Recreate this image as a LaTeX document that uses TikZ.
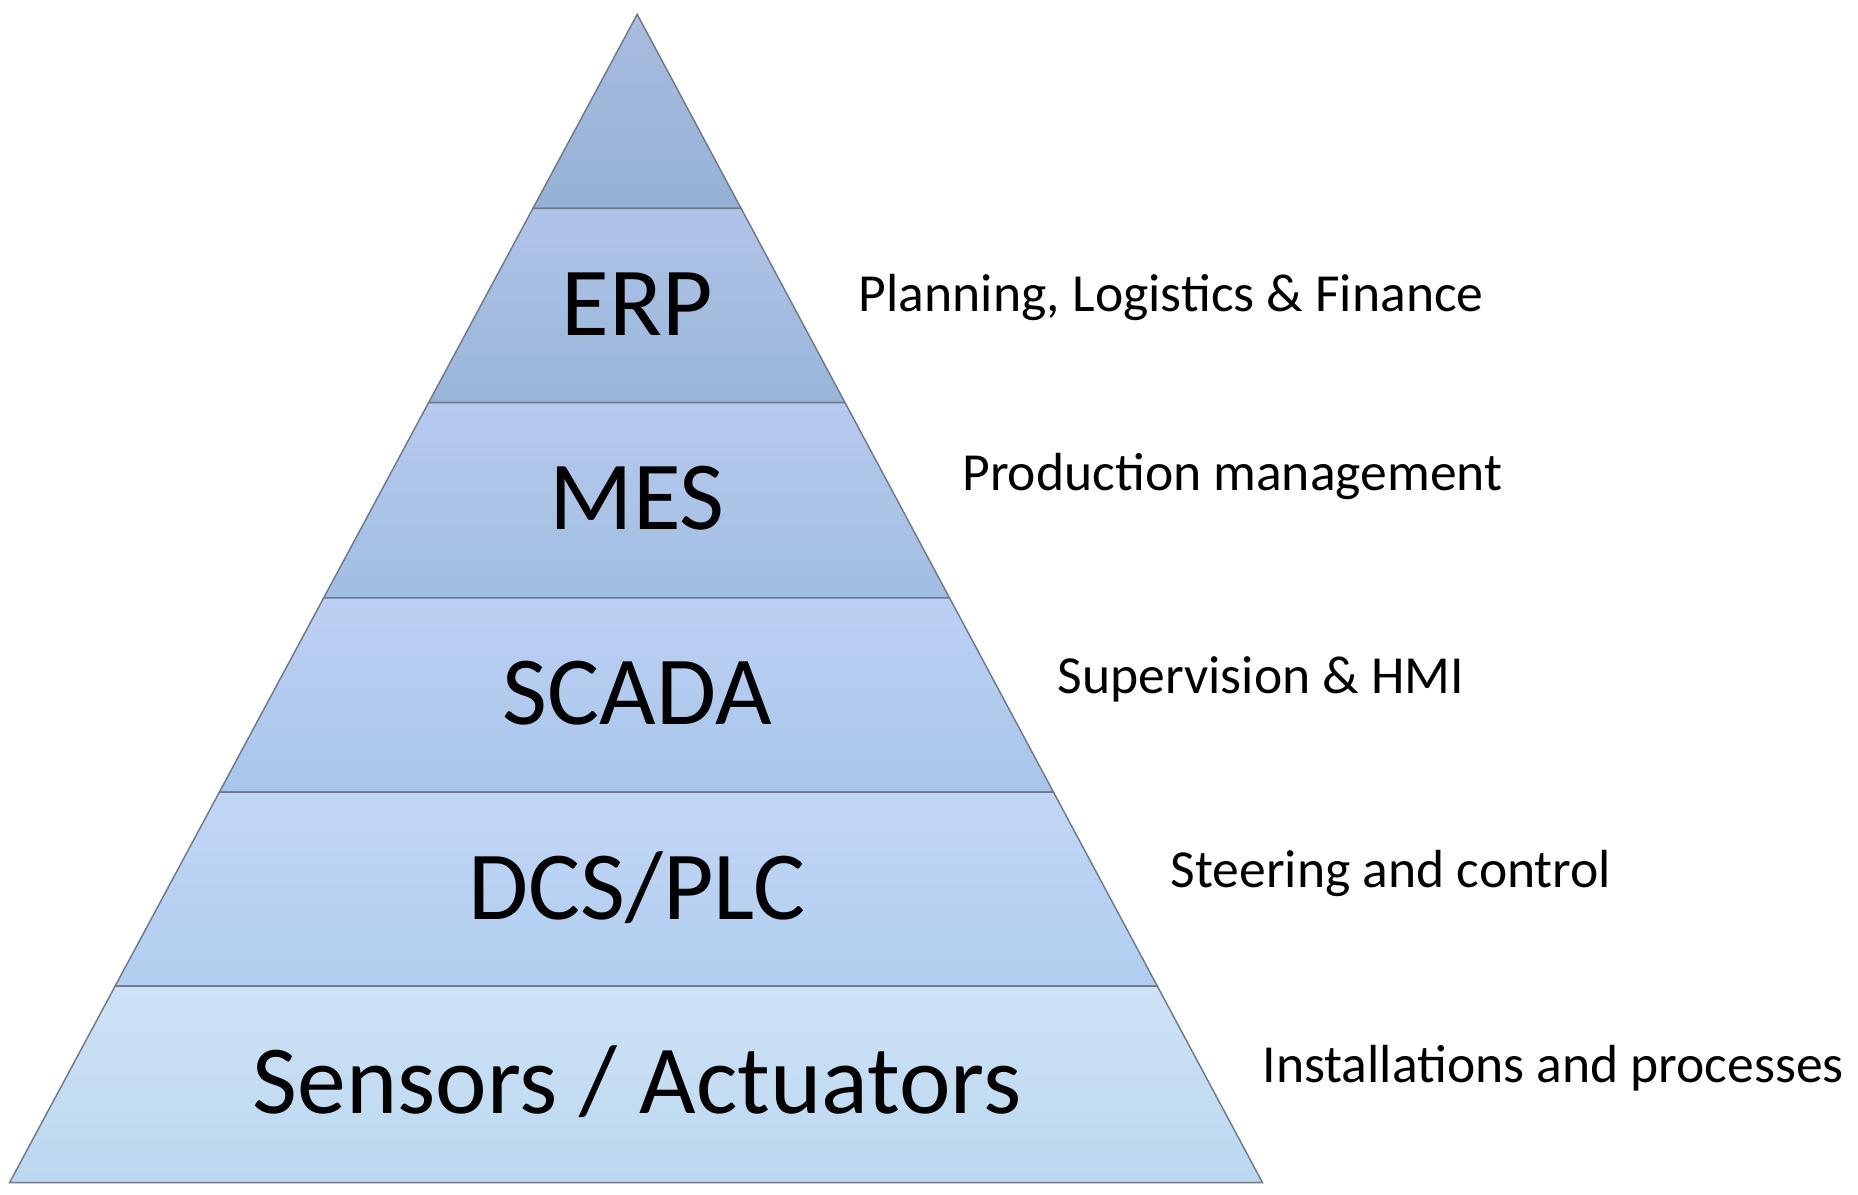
\documentclass[tikz,border=0pt]{standalone}
\usepackage{fontspec}
\setmainfont{Carlito}
\begin{document}
\begin{tikzpicture}[x=0.5pt,y=-0.5pt,
  band/.style={draw={rgb,255:red,110;green,120;blue,135},line width=0.6pt},
  level/.style={font=\fontsize{41}{43}\selectfont},
  role/.style={anchor=west,font=\fontsize{22.5}{24}\selectfont}]
\useasboundingbox (0,0) rectangle (1560,1003);

% bands of the pyramid, top to bottom
\foreach \yt/\yb/\ct/\cb in {12/175/168/148, 175/338/176/152, 338/502/182/160, 502/665/188/168, 665/828/194/176, 828/993/206/186}{
  \pgfmathsetmacro{\lt}{535-(\yt-12)*0.5372}
  \pgfmathsetmacro{\rt}{535+(\yt-12)*0.5352}
  \pgfmathsetmacro{\lb}{535-(\yb-12)*0.5372}
  \pgfmathsetmacro{\rb}{535+(\yb-12)*0.5352}
  \pgfmathtruncatemacro{\gt}{\ct+20}
  \pgfmathtruncatemacro{\gb}{\cb+30}
  \pgfmathtruncatemacro{\bt}{min(\ct+56,245)}
  \pgfmathtruncatemacro{\bb}{min(\cb+66,240)}
  \definecolor{tcol}{RGB}{\ct,\gt,\bt}
  \definecolor{bcol}{RGB}{\cb,\gb,\bb}
  \draw[band,top color=tcol,bottom color=bcol] (\lt,\yt) -- (\rt,\yt) -- (\rb,\yb) -- (\lb,\yb) -- cycle;
}

% level names
\node[level] (erp) at (535,255) {ERP};
\node[level] (mes) at (535,418) {MES};
\node[level] (scada) at (535,582) {SCADA};
\node[level] (dcs) at (535,745) {DCS/PLC};
\node[level] (sens) at (535,908) {Sensors / Actuators};

% roles
\node[role] (plan) at (714,250) {Planning, Logistics \& Finance};
\node[role] (prod) at (801,400) {Production management};
\node[role] (sup) at (881,570) {Supervision \& HMI};
\node[role] (steer) at (976,733) {Steering and control};
\node[role] (inst) at (1053,897) {Installations and processes};
\end{tikzpicture}
\end{document}
